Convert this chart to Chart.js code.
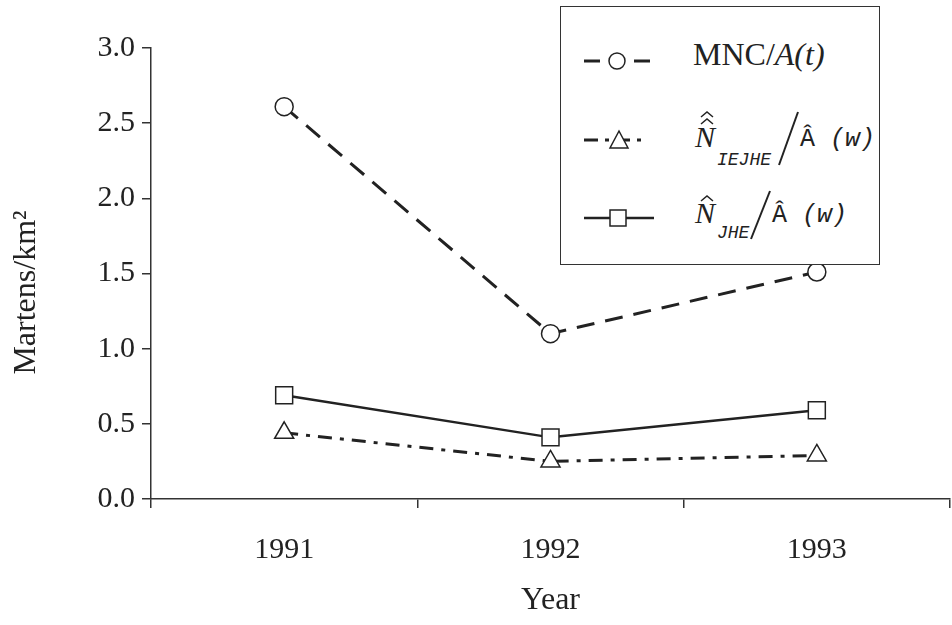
<!DOCTYPE html>
<html>
<head>
<meta charset="utf-8">
<script src="https://cdn.jsdelivr.net/npm/chart.js@4"></script>
<style>
  html, body { margin: 0; padding: 0; background: #fff; }
  #caja { position: relative; width: 952px; height: 625px; overflow: hidden; }
  #caja canvas { position: absolute; left: 0; top: 0; }
  #marco {
    position: absolute; left: 560px; top: 6px; width: 320px; height: 259px;
    box-sizing: border-box; border: 1.5px solid #333; background: #fff;
  }
  .pz { position: absolute; line-height: 1; white-space: nowrap; color: #222; }
  .serif { font-family: "Liberation Serif", serif; }
  .mono { font-family: "Liberation Mono", monospace; }
  svg.pz { overflow: visible; }
</style>
</head>
<body>
<div id="caja">
  <canvas id="graficoMartens" width="952" height="625"></canvas>
  <div id="marco"></div>

  <!-- ===== Leyenda fila 1 ===== -->
  <svg class="pz" style="left:584px;top:46px" width="72" height="30">
    <line x1="0" y1="15" x2="70" y2="15" stroke="#222" stroke-width="3" stroke-dasharray="16,9"/>
    <circle cx="33" cy="15" r="8" fill="#fff" stroke="#222" stroke-width="1.5"/>
  </svg>
  <span class="pz serif" style="left:693px;top:38px;font-size:32px">MNC/<i>A(t)</i></span>

  <!-- ===== Leyenda fila 2 ===== -->
  <svg class="pz" style="left:584px;top:125px" width="72" height="30">
    <line x1="0" y1="15" x2="60" y2="15" stroke="#222" stroke-width="3" stroke-dasharray="14,7,4,7"/>
    <polygon points="35,6 44,23 26,23" fill="#fff" stroke="#222" stroke-width="1.5"/>
  </svg>
  <span class="pz serif" style="left:695px;top:122px;font-size:30px"><i>N</i></span>
  <svg class="pz" style="left:697px;top:108px" width="22" height="20">
    <polyline points="4,9 10,4 16,9" fill="none" stroke="#222" stroke-width="1.5"/>
    <polyline points="4,16 10,11 16,16" fill="none" stroke="#222" stroke-width="1.5"/>
  </svg>
  <span class="pz mono" style="left:717px;top:151px;font-size:18px"><i>IEJHE</i></span>
  <svg class="pz" style="left:776px;top:110px" width="26" height="58">
    <line x1="22" y1="2" x2="3" y2="55" stroke="#222" stroke-width="2"/>
  </svg>
  <span class="pz mono" style="left:800px;top:127px;font-size:25px">Â <i>(w)</i></span>

  <!-- ===== Leyenda fila 3 ===== -->
  <svg class="pz" style="left:584px;top:203px" width="72" height="30">
    <line x1="0" y1="15" x2="70" y2="15" stroke="#222" stroke-width="2.5"/>
    <rect x="26" y="7" width="16" height="16" fill="#fff" stroke="#222" stroke-width="1.5"/>
  </svg>
  <span class="pz serif" style="left:695px;top:198px;font-size:30px"><i>N</i></span>
  <svg class="pz" style="left:697px;top:190px" width="22" height="14">
    <polyline points="4,11 10,6 16,11" fill="none" stroke="#222" stroke-width="1.5"/>
  </svg>
  <span class="pz mono" style="left:717px;top:224px;font-size:18px"><i>JHE</i></span>
  <svg class="pz" style="left:748px;top:189px" width="26" height="54">
    <line x1="22" y1="2" x2="3" y2="50" stroke="#222" stroke-width="2"/>
  </svg>
  <span class="pz mono" style="left:772px;top:203px;font-size:25px">Â <i>(w)</i></span>
</div>
<script>
// ============ Datos ============
const anios = ['1991', '1992', '1993'];
const mncSobreArea = [2.61, 1.10, 1.51];
const nIejheSobreArea = [0.44, 0.25, 0.29];
const nJheSobreArea = [0.69, 0.41, 0.59];
const ticksY = [0.0, 0.5, 1.0, 1.5, 2.0, 2.5, 3.0];
const tituloY = 'Martens/km²';

const tinta = '#222';
const fuenteTicks = { family: 'Liberation Serif', size: 30 };
const fuenteTitulo = { family: 'Liberation Serif', size: 32 };

// ============ Titulo vertical del eje Y (un poco por debajo del centro) ============
const pluginTituloY = {
  id: 'tituloY',
  afterDraw(chart) {
    const ctx = chart.ctx;
    const area = chart.chartArea;
    ctx.save();
    ctx.translate(27, (area.top + area.bottom) / 2 + 19);
    ctx.rotate(-Math.PI / 2);
    ctx.font = fuenteTitulo.size + 'px ' + fuenteTitulo.family;
    ctx.fillStyle = tinta;
    ctx.textAlign = 'center';
    ctx.textBaseline = 'middle';
    ctx.fillText(tituloY, 0, 0);
    ctx.restore();
  }
};

new Chart(document.getElementById('graficoMartens'), {
  type: 'line',
  data: {
    labels: anios,
    datasets: [
      {
        label: 'MNC/A(t)', data: mncSobreArea,
        borderColor: tinta, borderWidth: 3, borderDash: [18, 11],
        pointStyle: 'circle', pointRadius: 9, pointBorderWidth: 1.5,
        pointBackgroundColor: '#fff', pointBorderColor: tinta, tension: 0
      },
      {
        label: 'N IEJHE / A(w)', data: nIejheSobreArea,
        borderColor: tinta, borderWidth: 3, borderDash: [14, 8, 4, 8],
        pointStyle: 'triangle', pointRadius: 11, pointBorderWidth: 1.5,
        pointBackgroundColor: '#fff', pointBorderColor: tinta, tension: 0
      },
      {
        label: 'N JHE / A(w)', data: nJheSobreArea,
        borderColor: tinta, borderWidth: 2.5,
        pointStyle: 'rect', pointRadius: 12, pointBorderWidth: 1.5,
        pointBackgroundColor: '#fff', pointBorderColor: tinta, tension: 0
      }
    ]
  },
  options: {
    responsive: false,
    animation: false,
    layout: { autoPadding: false, padding: { top: 48, right: 2, left: 0, bottom: 0 } },
    plugins: { legend: { display: false }, tooltip: { enabled: false } },
    scales: {
      x: {
        offset: true,
        grid: { offset: true, drawOnChartArea: false, tickLength: 9, color: '#333', lineWidth: 1.5 },
        border: { color: '#333', width: 1.5 },
        ticks: { color: tinta, font: fuenteTicks, padding: 24 },
        title: { display: true, text: 'Year', color: tinta, font: fuenteTitulo, padding: { top: 10, bottom: 5 } },
        afterFit: s => { s.height = 126; s.paddingLeft = 0; s.paddingRight = 0; }
      },
      y: {
        min: 0, max: 3,
        afterBuildTicks: s => { s.ticks = ticksY.map(v => ({ value: v })); },
        grid: { drawOnChartArea: false, tickLength: 9, color: '#333', lineWidth: 1.5 },
        border: { color: '#333', width: 1.5 },
        ticks: { color: tinta, font: fuenteTicks, padding: 7, callback: v => v.toFixed(1) },
        afterFit: s => { s.width = 151; }
      }
    }
  },
  plugins: [pluginTituloY]
});
</script>
</body>
</html>
